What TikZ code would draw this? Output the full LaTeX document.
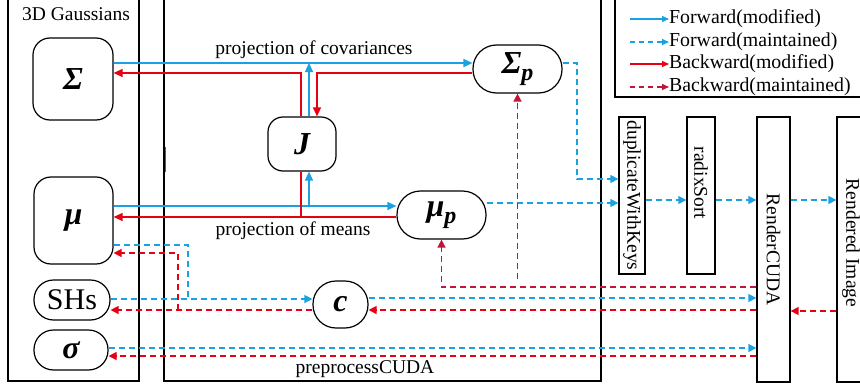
\documentclass[tikz,border=0pt]{standalone}
\usepackage{fontspec}
\setmainfont{Liberation Serif}
\usetikzlibrary{arrows.meta}
\definecolor{fblue}{HTML}{1BA1E2}
\definecolor{sblue}{HTML}{3A95C8}
\definecolor{bred}{HTML}{E60012}
\definecolor{dred}{HTML}{C0163A}
\begin{document}
\begin{tikzpicture}[x=1pt,y=-1pt,
  every node/.style={font=\fontsize{19.5}{21}\selectfont},
  frame/.style={draw=black, line width=1.3pt},
  gbox/.style={draw, line width=1.2pt, inner sep=0pt, rounded corners=17pt},
  pill/.style={draw, line width=1.2pt, inner sep=0pt},
  sym/.style={font=\fontsize{32}{34}\selectfont\bfseries\itshape},
  kbox/.style={draw, line width=1.3pt, inner sep=0pt},
  tip/.style={-{Triangle[length=9pt,width=8pt]}},
  dtip/.style={-{Triangle[length=8pt,width=8pt]}},
  fwdm/.style={draw=fblue, line width=1.3pt},
  bwdm/.style={draw=bred, line width=1.3pt},
  fwdk/.style={draw=fblue, line width=1.4pt, dash pattern=on 6pt off 4pt},
  bwdk/.style={draw=bred, line width=1.4pt, dash pattern=on 6pt off 4pt},
  bwdd/.style={draw=dred, line width=1.5pt, dash pattern=on 6pt off 4pt},
  lgtip/.style={-{Triangle[length=7pt,width=6pt]}},
  lbl/.style={inner sep=0pt},
  lgl/.style={inner sep=0pt, anchor=west, font=\fontsize{19.8}{22}\selectfont}
]
\useasboundingbox (0,0) rectangle (860,388);

% frames
\draw[frame] (8,-3) rectangle (139,381);
\draw[frame] (164,-3) rectangle (601,381);
\draw[frame, line width=1.6pt] (615,-3) rectangle (875,97);
\draw[fblue!70!black, line width=0.7pt] (165.6,147) -- (165.6,172);

\node[lbl] (title) at (76,14) {3D Gaussians};
\node[lbl] (prep) at (365,369) {preprocessCUDA};
\node[lbl] (pcov) at (314,50) {projection of covariances};
\node[lbl] (pmean) at (293,231) {projection of means};

% nodes
\node[gbox, sym, minimum width=80pt, minimum height=82pt] (Sig) at (73,79) {Σ};
\node[gbox, sym, minimum width=79pt, minimum height=87pt] (Mu) at (73.5,220.5) {μ};
\node[pill, rounded corners=19.5pt, minimum width=76pt, minimum height=40pt, font=\fontsize{30}{31}\selectfont] (SHs) at (72,300) {SHs};
\node[pill, sym, rounded corners=19.5pt, minimum width=74pt, minimum height=40pt] (sg) at (71,350) {σ};
\node[gbox, sym, rounded corners=15pt, minimum width=68pt, minimum height=54pt] (J) at (302,144) {J};
\node[pill, sym, rounded corners=23.5pt, minimum width=89pt, minimum height=48pt] (Sp) at (517.5,69) {Σ\raisebox{-7pt}{\fontsize{24}{24}\selectfont p}};
\node[pill, sym, rounded corners=23.5pt, minimum width=89pt, minimum height=48pt] (Mp) at (441.5,215) {μ\raisebox{-7pt}{\fontsize{24}{24}\selectfont p}};
\node[pill, sym, rounded corners=23pt, minimum width=55pt, minimum height=47pt] (C) at (340.5,304.5) {c};

\node[kbox, minimum width=26pt, minimum height=157pt] (Dup) at (632,195.5) {\rotatebox{-90}{duplicateWithKeys}};
\node[kbox, minimum width=28pt, minimum height=157pt] (Radix) at (701,195.5) {\rotatebox{-90}{radixSort\hspace{25pt}}};
\node[kbox, minimum width=33pt, minimum height=265pt] (Render) at (773.5,249.5) {\rotatebox{-90}{RenderCUDA}};
\node[kbox, minimum width=28pt, minimum height=265pt] (Img) at (851,249.5) {\rotatebox{-90}{Rendered Image\hspace{13pt}}};

% helper rows / columns
\foreach \r in {63,73,179,200,203,206,217,245,253,279,287,298,299,310,311,348,356}
  \coordinate (h\r) at (0,\r);
\foreach \c in {178,188,301,309,317,577}
  \coordinate (v\c) at (\c,0);

% solid forward
\draw[fwdm, tip] (Sig.east |- h63) -- (Sp.west |- h63);
\draw[fwdm, tip] (J.north -| v309) -- (v309 |- h63);
\draw[fwdm, tip] (v309 |- h206) -- (J.south -| v309);
\draw[fwdm, tip] (Mu.east |- h206) -- (Mp.west |- h206);
% solid backward
\draw[bwdm, tip] (Sp.west |- h73) -- (v317 |- h73) -- (J.north -| v317);
\draw[bwdm, tip] (J.north -| v301) -- (v301 |- h73) -- (Sig.east |- h73);
\draw[bwdm, tip] (Mp.west |- h217) -- (Mu.east |- h217);
\draw[bwdm] (J.south -| v301) -- (v301 |- h217);

% dashed forward
\draw[fwdk, dtip] (Sp.east |- h63) -- (v577 |- h63) -- (v577 |- h179) -- (Dup.west |- h179);
\draw[fwdk, dtip] (Mp.east |- h203) -- (Dup.west |- h203);
\draw[fwdk, dtip] (Dup.east |- h200) -- (Radix.west |- h200);
\draw[fwdk, dtip] (Radix.east |- h200) -- (Render.west |- h200);
\draw[fwdk, dtip] (Render.east |- h200) -- (Img.west |- h200);
\draw[fwdk, dtip] (C.east |- h298) -- (Render.west |- h298);
\draw[fwdk, dtip] (SHs.east |- h299) -- (C.west |- h299);
\draw[fwdk] (Mu.east |- h245) -- (v188 |- h245) -- (v188 |- h299);
\draw[fwdk, dtip] (sg.east |- h348) -- (Render.west |- h348);

% dashed backward
\draw[bwdk, dtip] (Img.west |- h311) -- (Render.east |- h311);
\draw[bwdk, dtip] (Render.west |- h310) -- (C.east |- h310);
\draw[bwdk, dtip] (C.west |- h310) -- (SHs.east |- h310);
\draw[bwdk, dtip] (v178 |- h310) -- (v178 |- h253) -- (Mu.east |- h253);
\draw[bwdk, dtip] (Render.west |- h356) -- (sg.east |- h356);
\draw[bwdd, dtip] (Render.west |- h287) -- (Mp.south |- h287) -- (Mp.south);
\draw[bwdd, dtip] (Sp.south |- h279) -- (Sp.south);

% legend
\node[lgl] (lg1) at (669,19) {Forward(modified)};
\node[lgl] (lg2) at (669,42) {Forward(maintained)};
\node[lgl] (lg3) at (669,64) {Backward(modified)};
\node[lgl] (lg4) at (669,87) {Backward(maintained)};
\coordinate (ls1) at (630,19);
\coordinate (ls2) at (630,42);
\coordinate (ls3) at (630,64);
\coordinate (ls4) at (630,87);
\draw[fwdm, lgtip] (ls1) -- (lg1.west);
\draw[fwdk, dash pattern=on 5pt off 4pt, lgtip] (ls2) -- (lg2.west);
\draw[bwdm, lgtip] (ls3) -- (lg3.west);
\draw[bwdd, dash pattern=on 5pt off 4pt, lgtip] (ls4) -- (lg4.west);
\end{tikzpicture}
\end{document}
